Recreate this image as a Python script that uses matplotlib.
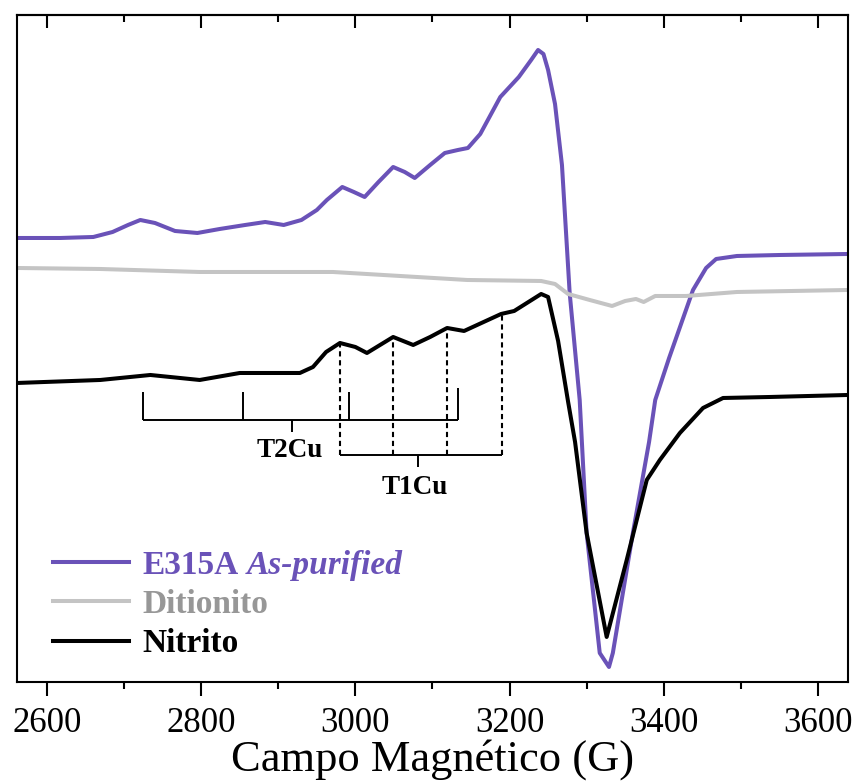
import matplotlib
matplotlib.use('Agg')
import matplotlib.pyplot as plt
from matplotlib.ticker import MultipleLocator
from matplotlib.lines import Line2D
from matplotlib.transforms import IdentityTransform

# espectros EPR (campo em G, intensidade em u.a.)
campo_e315a = [2561, 2617, 2660, 2685, 2705, 2721, 2740, 2766, 2795, 2824,
               2857, 2883, 2907, 2930, 2950, 2963, 2983, 2998, 3012, 3030,
               3049, 3064, 3077, 3097, 3116, 3133, 3146, 3162, 3188, 3212,
               3228, 3237, 3244, 3250, 3259, 3268, 3278, 3291, 3300, 3317,
               3323, 3329, 3334, 3360, 3381, 3389, 3407, 3438, 3455, 3468,
               3495, 3551, 3639]
sinal_e315a = [444, 444, 445, 450, 457, 462, 459, 451, 449, 453,
               457, 460, 457, 462, 472, 482, 495, 490, 485, 500,
               515, 510, 504, 517, 529, 532, 534, 548, 585, 605,
               622, 632, 628, 612, 578, 517, 389, 282, 149, 29,
               22, 15, 29, 149, 240, 282, 324, 392, 414, 423,
               426, 427, 428]

campo_ditionito = [2561, 2669, 2798, 2971, 3058, 3145, 3241, 3259, 3276, 3304,
                   3333, 3350, 3364, 3374, 3389, 3429, 3495, 3639]
sinal_ditionito = [414, 413, 410, 410, 406, 402, 401, 398, 388, 382,
                   376, 381, 383, 380, 386, 386, 390, 392]

campo_nitrito = [2561, 2669, 2734, 2798, 2850, 2928, 2945, 2962, 2980, 3000,
                 3015, 3049, 3075, 3097, 3119, 3141, 3189, 3206, 3241, 3250,
                 3263, 3276, 3285, 3300, 3326, 3352, 3378, 3395, 3421, 3451,
                 3477, 3538, 3639]
sinal_nitrito = [299, 302, 307, 302, 309, 309, 315, 330, 339, 335,
                 329, 345, 337, 345, 354, 351, 368, 371, 388, 385,
                 341, 280, 240, 149, 45, 122, 202, 222, 249, 274,
                 284, 285, 287]

# diagramas de bastoes
t2cu_campos = [2724, 2854, 2992, 3133]
t1cu_campos = [2980, 3049, 3119, 3190]
t1cu_topos = [339, 345, 354, 368]

roxo = '#6A52B8'
cinza = '#C4C4C4'
fonte = 'Liberation Serif'

fig = plt.figure(figsize=(8.54, 7.81), dpi=100)
ax = fig.add_axes([0.0199, 0.1268, 0.973, 0.854])

ax.plot(campo_e315a, sinal_e315a, color=roxo, lw=2.9, solid_joinstyle='round')
ax.plot(campo_ditionito, sinal_ditionito, color=cinza, lw=2.9, solid_joinstyle='round')
ax.plot(campo_nitrito, sinal_nitrito, color='black', lw=2.9, solid_joinstyle='round')

# T2Cu
ax.hlines(262, t2cu_campos[0], t2cu_campos[-1], color='black', lw=1.4)
ax.vlines(t2cu_campos, 262, [290, 290, 290, 294], color='black', lw=1.4)
ax.vlines(2918, 250, 262, color='black', lw=1.4)
ax.text(2915, 231, 'T2Cu', family=fonte, fontweight='bold', fontsize=19.5,
        ha='center', va='center')

# T1Cu
ax.hlines(227, t1cu_campos[0], t1cu_campos[-1], color='black', lw=1.4)
ax.vlines(t1cu_campos, 227, t1cu_topos, color='black', lw=1.5, linestyles=(0, (2.5, 1.8)))
ax.vlines(3081, 215, 227, color='black', lw=1.4)
ax.text(3077, 194, 'T1Cu', family=fonte, fontweight='bold', fontsize=19.5,
        ha='center', va='center')

ax.set_xlim(2561, 3639)
ax.set_ylim(0, 667)
ax.set_yticks([])
ax.xaxis.set_major_locator(MultipleLocator(200))
ax.xaxis.set_minor_locator(MultipleLocator(100))
ax.tick_params(axis='x', which='major', direction='out', length=10, width=1.5, pad=8,
               labelsize=25)
ax.tick_params(axis='x', which='minor', direction='out', length=5, width=1.5)
for lab in ax.get_xticklabels():
    lab.set_family(fonte)
for s in ax.spines.values():
    s.set_linewidth(1.5)

topo = ax.secondary_xaxis('top')
topo.xaxis.set_major_locator(MultipleLocator(200))
topo.xaxis.set_minor_locator(MultipleLocator(100))
topo.tick_params(which='major', direction='in', length=9, width=1.5, labeltop=False)
topo.tick_params(which='minor', direction='in', length=5, width=1.5)
topo.spines['top'].set_linewidth(1.5)

ax.set_xlabel('Campo Magnético (G)', family=fonte, fontsize=32, labelpad=-1)

handles = [Line2D([], [], color=roxo, lw=2.9),
           Line2D([], [], color=cinza, lw=2.9),
           Line2D([], [], color='black', lw=2.9)]
leg = ax.legend(handles, ['E315A', 'Ditionito', 'Nitrito'], loc='lower left',
                bbox_to_anchor=(0.043, 0.034), frameon=False, borderpad=0,
                borderaxespad=0, handlelength=2.3, handletextpad=0.4,
                labelspacing=0.25, prop={'family': fonte, 'weight': 'bold', 'size': 24})
for t, c in zip(leg.get_texts(), [roxo, '#979797', 'black']):
    t.set_color(c)

# parte em italico da primeira entrada
fig.canvas.draw()
bb = leg.get_texts()[0].get_window_extent()
fig.text(bb.x1 + 8, bb.y0, 'As-purified', transform=IdentityTransform(),
         ha='left', va='bottom', family=fonte, fontweight='bold',
         fontstyle='italic', fontsize=24, color=roxo)

fig.savefig('out.png', dpi=100)
